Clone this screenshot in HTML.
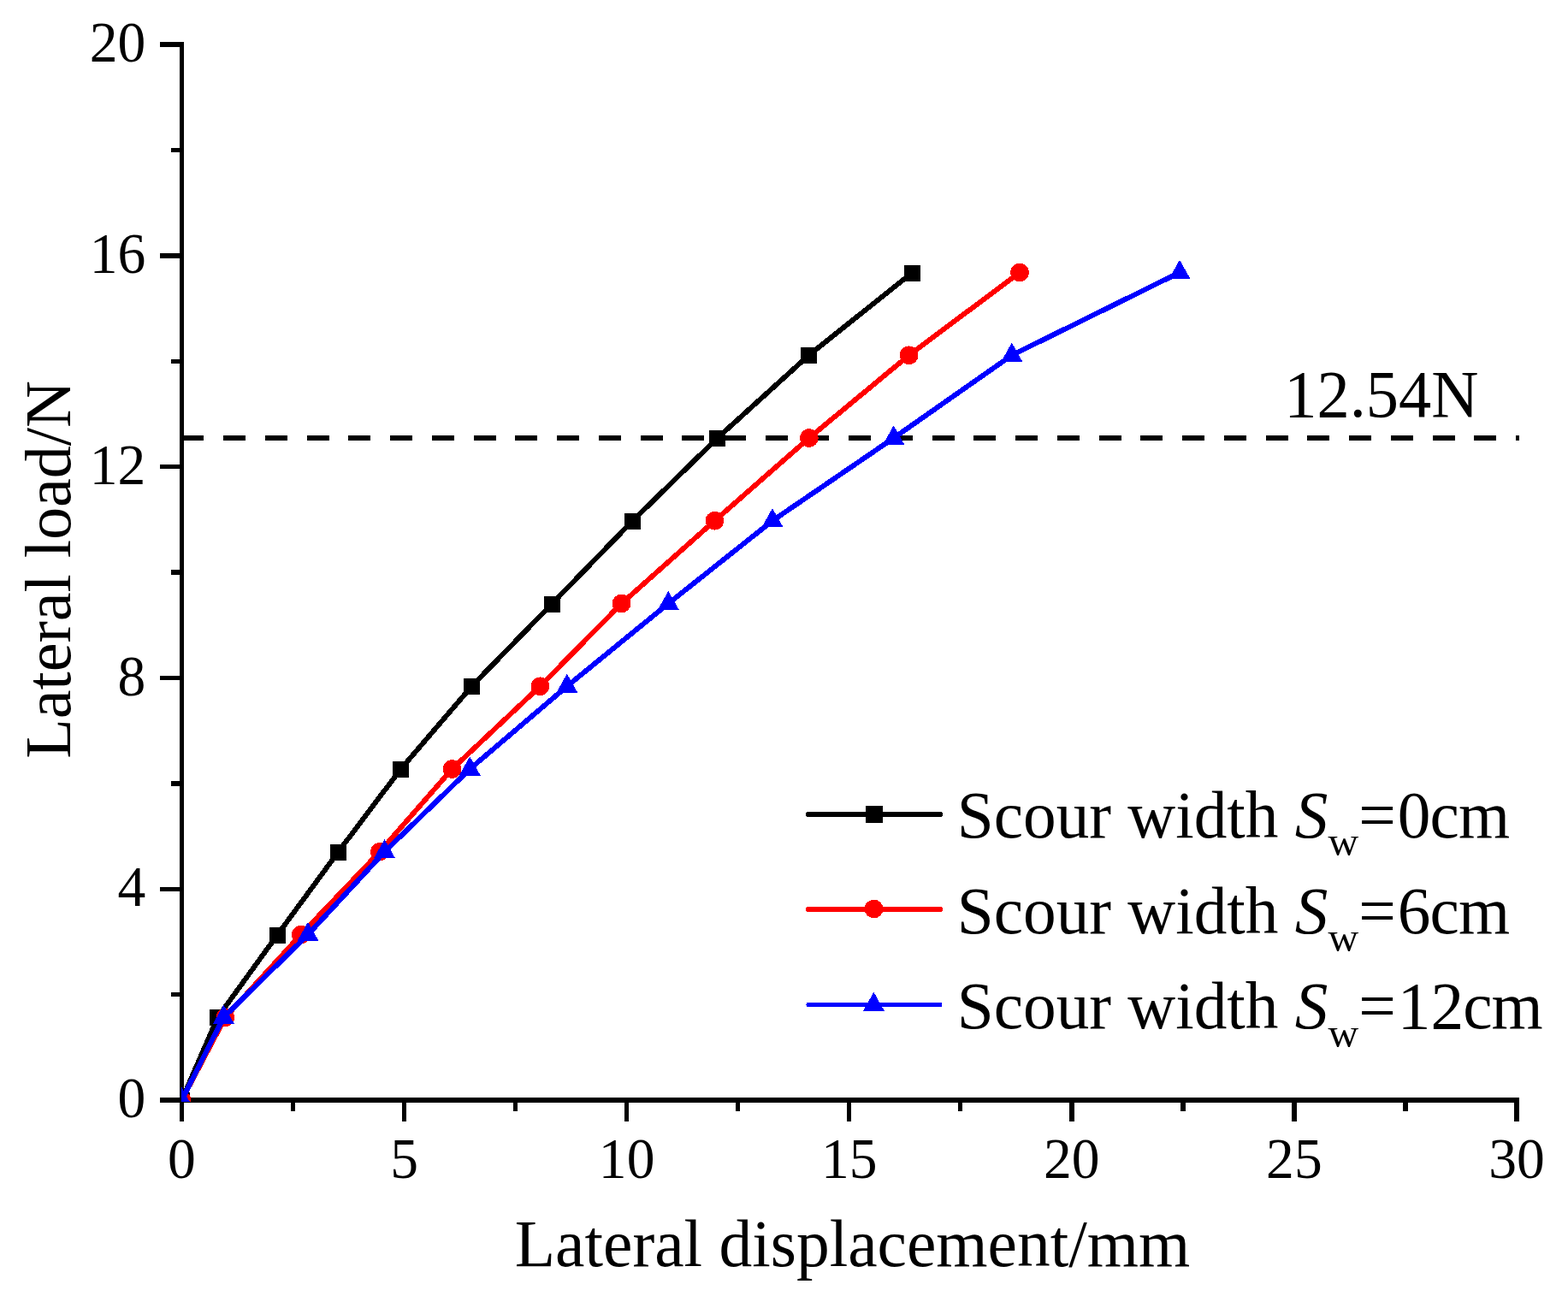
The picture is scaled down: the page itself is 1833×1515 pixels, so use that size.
<!DOCTYPE html>
<html lang="en">
<head>
<meta charset="utf-8">
<title>Lateral load/N</title>
<style>
html,body{margin:0;padding:0;background:#fff;}
body{width:1833px;height:1515px;overflow:hidden;}
svg{display:block;}
text{font-family:"Liberation Serif","Times New Roman",Times,serif;fill:#000;}
.tick{font-size:65.6px;}
.big{font-size:77.3px;}
</style>
</head>
<body>
<svg width="1833" height="1515" viewBox="0 0 1833 1515">
<rect x="0" y="0" width="1833" height="1515" fill="#fff"/>
<defs><clipPath id="plotclip"><rect x="212" y="0" width="1621" height="1288"/></clipPath></defs>
<g id="axes" fill="#000" shape-rendering="crispEdges">
<rect x="210" y="49" width="5" height="1262"/>
<rect x="187" y="1283" width="1589" height="6"/>
<rect x="200" y="1160" width="10" height="5"/>
<rect x="187" y="1037" width="23" height="5"/>
<rect x="200" y="913" width="10" height="6"/>
<rect x="187" y="790" width="23" height="5"/>
<rect x="200" y="666" width="10" height="6"/>
<rect x="187" y="543" width="23" height="5"/>
<rect x="200" y="420" width="10" height="5"/>
<rect x="187" y="296" width="23" height="6"/>
<rect x="200" y="173" width="10" height="5"/>
<rect x="187" y="49" width="23" height="6"/>
<rect x="340" y="1289" width="5" height="10"/>
<rect x="470" y="1289" width="5" height="22"/>
<rect x="600" y="1289" width="5" height="10"/>
<rect x="730" y="1289" width="5" height="22"/>
<rect x="860" y="1289" width="5" height="10"/>
<rect x="990" y="1289" width="5" height="22"/>
<rect x="1120" y="1289" width="5" height="10"/>
<rect x="1250" y="1289" width="6" height="22"/>
<rect x="1380" y="1289" width="6" height="10"/>
<rect x="1510" y="1289" width="6" height="22"/>
<rect x="1640" y="1289" width="6" height="10"/>
<rect x="1770" y="1289" width="6" height="22"/>
</g>
<g id="yticklabels" class="tick" text-anchor="end">
<text transform="translate(170.3,1306.1) scale(1,1.035)">0</text>
<text transform="translate(170.3,1059.3) scale(1,1.035)">4</text>
<text transform="translate(170.3,812.5) scale(1,1.035)">8</text>
<text transform="translate(170.3,565.7) scale(1,1.035)">12</text>
<text transform="translate(170.3,318.9) scale(1,1.035)">16</text>
<text transform="translate(170.3,72.1) scale(1,1.035)">20</text>
</g>
<g id="xticklabels" class="tick" text-anchor="middle">
<text transform="translate(212.5,1377) scale(1,1.035)">0</text>
<text transform="translate(472.58,1377) scale(1,1.035)">5</text>
<text transform="translate(732.67,1377) scale(1,1.035)">10</text>
<text transform="translate(992.75,1377) scale(1,1.035)">15</text>
<text transform="translate(1252.83,1377) scale(1,1.035)">20</text>
<text transform="translate(1512.92,1377) scale(1,1.035)">25</text>
<text transform="translate(1773,1377) scale(1,1.035)">30</text>
</g>
<text class="big" transform="translate(601.8,1480) scale(1.0025,1)">Lateral displacement/mm</text>
<text class="big" transform="translate(81.5,886.8) rotate(-90) scale(0.985,0.98)">Lateral load/N</text>
<g id="refline" shape-rendering="crispEdges" clip-path="url(#plotclip)">
<line x1="212.4" y1="512" x2="1776" y2="512" stroke="#000" stroke-width="6" stroke-dasharray="26 22.74"/>
</g>
<text class="big" transform="translate(1501.2,486.6) scale(0.989,1.012)">12.54N</text>
<g id="data" clip-path="url(#plotclip)">
<g id="s0" shape-rendering="crispEdges">
<polyline points="212.5,1286 254.5,1189.25 324.5,1092.51 395.5,995.76 468.5,899.02 551.4,802.27 645.5,705.53 739.6,608.78 838.7,512.04 945.5,415.29 1066.6,318.54" fill="none" stroke="#000000" stroke-width="6" stroke-linejoin="round"/>
<rect x="203" y="1277" width="19" height="19" fill="#000000"/>
<rect x="245" y="1180" width="19" height="19" fill="#000000"/>
<rect x="315" y="1084" width="19" height="19" fill="#000000"/>
<rect x="386" y="987" width="19" height="19" fill="#000000"/>
<rect x="459" y="890" width="19" height="19" fill="#000000"/>
<rect x="542" y="793" width="19" height="19" fill="#000000"/>
<rect x="636" y="697" width="19" height="19" fill="#000000"/>
<rect x="730" y="600" width="19" height="19" fill="#000000"/>
<rect x="829" y="503" width="19" height="19" fill="#000000"/>
<rect x="936" y="406" width="19" height="19" fill="#000000"/>
<rect x="1057" y="310" width="19" height="19" fill="#000000"/>
</g>
<g id="s6" shape-rendering="crispEdges">
<polyline points="212.5,1286 263.3,1189.25 351.8,1092.51 443.9,995.76 528.5,899.02 631.4,802.27 726.5,705.53 835.4,608.78 945.8,512.04 1062.6,415.29 1192,318.54" fill="none" stroke="#ff0000" stroke-width="6" stroke-linejoin="round"/>
<circle cx="212.5" cy="1286" r="10.8" fill="#ff0000"/>
<circle cx="263.3" cy="1189.25" r="10.8" fill="#ff0000"/>
<circle cx="351.8" cy="1092.51" r="10.8" fill="#ff0000"/>
<circle cx="443.9" cy="995.76" r="10.8" fill="#ff0000"/>
<circle cx="528.5" cy="899.02" r="10.8" fill="#ff0000"/>
<circle cx="631.4" cy="802.27" r="10.8" fill="#ff0000"/>
<circle cx="726.5" cy="705.53" r="10.8" fill="#ff0000"/>
<circle cx="835.4" cy="608.78" r="10.8" fill="#ff0000"/>
<circle cx="945.8" cy="512.04" r="10.8" fill="#ff0000"/>
<circle cx="1062.6" cy="415.29" r="10.8" fill="#ff0000"/>
<circle cx="1192" cy="318.54" r="10.8" fill="#ff0000"/>
</g>
<g id="s12" shape-rendering="crispEdges">
<polyline points="212.5,1286 261.4,1189.25 360,1092.51 449.5,995.76 549.2,899.02 662.8,802.27 781.3,705.53 903,608.78 1044.7,512.04 1182.8,415.29 1379,318.54" fill="none" stroke="#0000ff" stroke-width="6" stroke-linejoin="round"/>
<polygon points="212.5,1271.3 200,1293.5 225,1293.5" fill="#0000ff"/>
<polygon points="261.4,1174.55 248.9,1196.75 273.9,1196.75" fill="#0000ff"/>
<polygon points="360,1077.81 347.5,1100.01 372.5,1100.01" fill="#0000ff"/>
<polygon points="449.5,981.06 437,1003.26 462,1003.26" fill="#0000ff"/>
<polygon points="549.2,884.32 536.7,906.52 561.7,906.52" fill="#0000ff"/>
<polygon points="662.8,787.57 650.3,809.77 675.3,809.77" fill="#0000ff"/>
<polygon points="781.3,690.83 768.8,713.03 793.8,713.03" fill="#0000ff"/>
<polygon points="903,594.08 890.5,616.28 915.5,616.28" fill="#0000ff"/>
<polygon points="1044.7,497.34 1032.2,519.54 1057.2,519.54" fill="#0000ff"/>
<polygon points="1182.8,400.59 1170.3,422.79 1195.3,422.79" fill="#0000ff"/>
<polygon points="1379,303.84 1366.5,326.04 1391.5,326.04" fill="#0000ff"/>
</g>
</g>
<g id="legend">
<g shape-rendering="crispEdges"><line x1="945" y1="952" x2="1099" y2="952" stroke="#000000" stroke-width="6" stroke-linecap="round"/>
<rect x="1012" y="942" width="20" height="20" fill="#000000"/>
</g>
<text class="big" x="1118.7" y="979">Scour width <tspan font-style="italic">S</tspan><tspan font-size="49.47px" dy="21.4">w</tspan><tspan dy="-21.4">=</tspan><tspan dx="2">0</tspan><tspan dx="-0.9">c</tspan><tspan dx="-0.9">m</tspan></text>
<g shape-rendering="crispEdges"><line x1="945" y1="1063" x2="1099" y2="1063" stroke="#ff0000" stroke-width="6" stroke-linecap="round"/>
<circle cx="1021.5" cy="1062.5" r="10.8" fill="#ff0000"/>
</g>
<text class="big" x="1118.7" y="1090.7">Scour width <tspan font-style="italic">S</tspan><tspan font-size="49.47px" dy="21.4">w</tspan><tspan dy="-21.4">=</tspan><tspan dx="2">6</tspan><tspan dx="-0.9">c</tspan><tspan dx="-0.9">m</tspan></text>
<g shape-rendering="crispEdges"><line x1="945" y1="1174.5" x2="1099" y2="1174.5" stroke="#0000ff" stroke-width="5" stroke-linecap="round"/>
<polygon points="1021.4,1159.7 1008.9,1181.9 1033.9,1181.9" fill="#0000ff"/>
</g>
<text class="big" x="1118.7" y="1202.4">Scour width <tspan font-style="italic">S</tspan><tspan font-size="49.47px" dy="21.4">w</tspan><tspan dy="-21.4">=</tspan><tspan dx="2">12</tspan><tspan dx="-0.9">c</tspan><tspan dx="-0.9">m</tspan></text>
</g>
</svg>
</body>
</html>
